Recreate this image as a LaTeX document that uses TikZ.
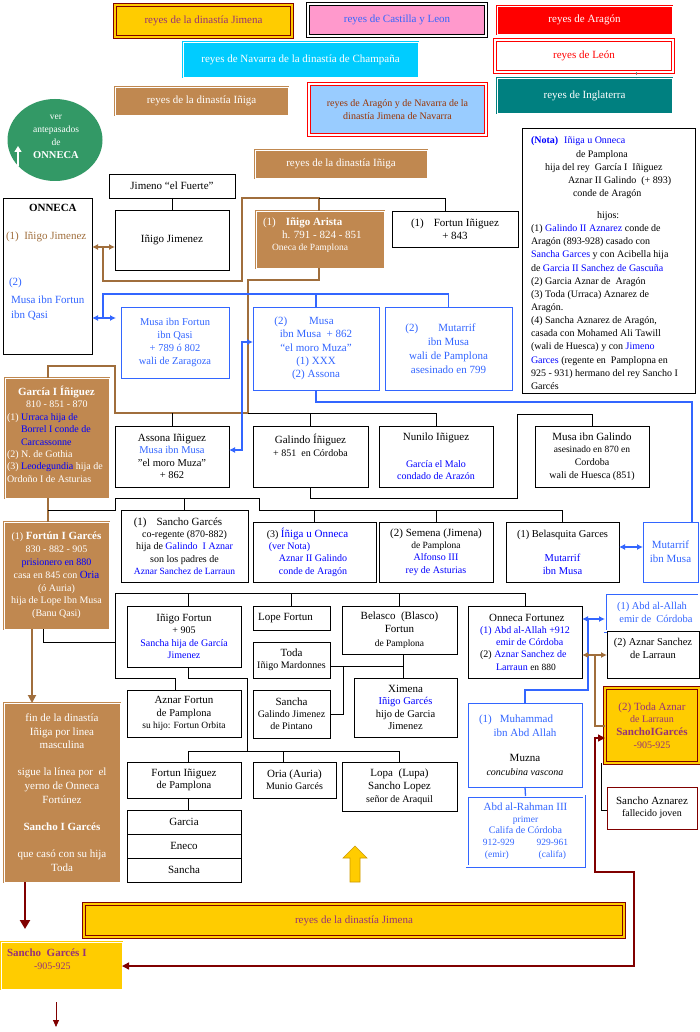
\documentclass[tikz,border=0pt]{standalone}
\usepackage{fontspec}
\setmainfont{Liberation Serif}
\usetikzlibrary{arrows.meta,shapes.geometric}

\definecolor{tblue}{RGB}{0,0,255}
\definecolor{bblue}{RGB}{51,102,255}
\definecolor{brownF}{RGB}{192,136,80}
\definecolor{brownL}{RGB}{160,110,60}
\definecolor{goldC}{RGB}{255,204,0}
\definecolor{goldD}{RGB}{204,153,0}
\definecolor{dred}{RGB}{128,0,0}
\definecolor{purp}{RGB}{150,50,120}
\definecolor{greenC}{RGB}{51,153,102}
\definecolor{tealC}{RGB}{0,128,128}
\definecolor{cyanC}{RGB}{0,204,255}
\definecolor{pinkC}{RGB}{255,153,204}
\definecolor{lblue}{RGB}{153,204,255}
\definecolor{brownT}{RGB}{153,51,0}

\newcommand\myfA{\fontsize{11}{13}\selectfont}
\newcommand\myfB{\fontsize{10}{12.5}\selectfont}
\newcommand\myfC{\fontsize{9.5}{12}\selectfont}

\newcommand\bx[7]{%
  \pgfmathsetmacro\bxcx{(#3+#5)/2}%
  \pgfmathsetmacro\bxcy{(#4+#6)/2}%
  \pgfmathsetmacro\bxw{#5-#3}%
  \pgfmathsetmacro\bxh{#6-#4}%
  \node[#1, minimum width=\bxw pt, minimum height=\bxh pt] (#2) at (\bxcx,\bxcy) {#7};}

\tikzset{
 base/.style={inner sep=0pt, outer sep=0pt, align=center, font=\myfB},
 bx/.style={base, draw=black, line width=0.7pt, fill=white},
 bluebx/.style={base, draw=bblue, line width=1pt, fill=white, text=bblue},
 dblbluebx/.style={base, draw=bblue, line width=0.8pt, double=white, double distance=1.4pt, fill=white, text=bblue},
 brownbx/.style={base, fill=brownF, draw=brownF, line width=0.6pt, double=white, double distance=0.8pt, text=white},
 jimbx/.style={base, fill=goldC, draw=dred, line width=1.2pt, double=goldC, double distance=1.5pt, text=purp, font=\myfA},
 castbx/.style={base, fill=pinkC, draw=black, line width=1pt, double=white, double distance=1.2pt, text=bblue, font=\myfA},
 flatbx/.style={base, fill=#1, draw=#1, line width=0.5pt, double=white, double distance=0.9pt, text=white, font=\myfA},
 leonbx/.style={base, fill=white, draw=red, line width=1.2pt, double=white, double distance=1.4pt, text=red, font=\myfA},
 aranavbx/.style={base, fill=lblue, draw=red, line width=1.1pt, double=white, double distance=1.3pt, text=brownT, font=\myfB},
 redbx/.style={base, draw=dred, line width=0.8pt, fill=white},
 sgbx/.style={base, fill=goldC, draw=goldC, line width=0.6pt, double=white, double distance=0.8pt},
 txt/.style={inner sep=0pt, outer sep=0pt, font=\myfB, align=left},
 conn/.style={draw=black, line width=0.8pt},
 bconn/.style={draw=bblue, line width=1.3pt},
 brconn/.style={draw=brownL, line width=1.7pt},
 barrow/.style={<->, >={Latex[length=6pt,width=6pt]}},
}

\begin{document}
\begin{tikzpicture}[x=1pt,y=-1pt]
\fill[white] (0,0) rectangle (700,1032);
\useasboundingbox (0,0) rectangle (700,1032);

% ---------- legend ----------
\bx{jimbx}{l1}{115}{5}{292}{37}{reyes de la dinastía Jimena}
\bx{castbx}{l2}{308}{4}{486}{36}{reyes de Castilla y Leon}
\bx{flatbx=red}{l3}{497}{6}{672}{34}{reyes de Aragón}
\bx{flatbx=cyanC}{l4}{183}{42}{418}{77}{reyes de Navarra de la dinastía de Champaña}
\bx{leonbx}{l5}{495}{40}{673}{72}{reyes de León}
\bx{flatbx=tealC}{l6}{497}{78}{672}{113}{reyes de Inglaterra}
\bx{brownbx, font=\myfA}{l7}{115}{87}{288}{115}{reyes de la dinastía Iñiga}
\bx{aranavbx}{l8}{309}{84}{486}{135}{reyes de Aragón y de Navarra de la\\dinastía Jimena de Navarra}
\draw[gray, dashed, line width=0.5pt] (l5.south -| 636,0) -- (l6.north -| 636,0);

% ---------- circle ----------
\node[ellipse, fill=greenC, minimum width=95pt, minimum height=82pt, inner sep=0pt] (circ) at (55,140) {};
\node[txt, align=center, text=white, font=\fontsize{9.5}{12.8}\selectfont] (circT) at (56,137) {ver\\antepasados\\de\\{\fontsize{10.5}{12}\selectfont\textbf{ONNECA}}};
\coordinate (cA) at (18,166);
\coordinate (cB) at (18,146);
\draw[white, line width=1.4pt, -{Triangle[length=6pt,width=7pt]}] (cA) -- (cB);

% ---------- row 1-2 ----------
\bx{brownbx, font=\myfA}{iniga2}{255}{150}{427}{178}{reyes de la dinastía Iñiga}
\bx{bx, font=\myfA}{jimeno}{109}{174}{235}{198}{Jimeno “el Fuerte”}
\bx{bx}{onneca}{3}{198}{92}{354}{}
\node[txt, anchor=north west, font=\myfA] (onnecaT) at (6,204) {%
\hspace*{23pt}\textbf{ONNECA}\\[15pt]
\textcolor{brownL}{(1)\ \ Iñigo Jimenez}\\[33pt]
\hspace*{3pt}\textcolor{bblue}{(2)}\\[5pt]
\hspace*{5pt}\textcolor{bblue}{Musa ibn Fortun}\\[2pt]
\hspace*{5pt}\textcolor{bblue}{ibn Qasi}};
\bx{bx, font=\myfA}{iniJim}{115}{210}{229}{270}{Iñigo Jimenez}
\bx{brownbx}{arista}{256}{211}{384}{268}{}
\node[txt, anchor=north west, text=white, font=\fontsize{11}{12.5}\selectfont] (aristaT) at (263,218) {%
(1)\hspace{10pt}\textbf{Iñigo Arista}\\
\hspace*{19pt}h. 791 - 824 - 851\\
\hspace*{9pt}{\myfC Oneca de Pamplona}};
\bx{bx, font=\myfA}{fortunI}{392}{211}{518}{247}{(1)\hspace{10pt}Fortun Iñiguez\\+ 843}

% note
\bx{bx}{note}{522}{128}{695}{393}{}
\node[txt, anchor=north west, font=\fontsize{10}{13.15}\selectfont] (noteT) at (531,137) {%
\textcolor{tblue}{\textbf{(Nota)}\hspace{6pt}Iñiga u Onneca}\\
\hspace*{45pt}de Pamplona\\
\hspace*{14pt}hija del rey\ \ García I\ \ Iñiguez\\
\hspace*{37pt}Aznar II Galindo\ \ (+ 893)\\
\hspace*{42pt}conde de Aragón\\[8.8pt]
\hspace*{66pt}hijos:\\
(1) \textcolor{tblue}{Galindo II Aznarez} conde de\\
Aragón (893-928) casado con\\
\textcolor{tblue}{Sancha Garces} y con Acibella hija\\
de \textcolor{tblue}{Garcia II Sanchez de Gascuña}\\
(2) Garcia Aznar de\ \ Aragón\\
(3) Toda (Urraca) Aznarez de\\
Aragón.\\
(4) Sancha Aznarez de Aragón,\\
casada con Mohamed Ali Tawill\\
(wali de Huesca) y con \textcolor{tblue}{Jimeno}\\
\textcolor{tblue}{Garces} (regente en\ \ Pamplopna en\\
925 - 931) hermano del rey Sancho I\\
Garcés};

% ---------- row 3 ----------
\bx{bluebx, font=\fontsize{10.5}{13}\selectfont}{musaF}{121}{307}{229}{378}{Musa ibn Fortun\\ibn Qasi\\+ 789 ó 802\\wali de Zaragoza}
\bx{bluebx, font=\fontsize{11}{13.2}\selectfont}{musaM}{253}{307}{379}{390}{(2)\hspace{22pt}Musa\hspace*{24pt}\\ibn Musa\ \ + 862\\“el moro Muza”\\(1) XXX\\(2) Assona}
\bx{bluebx, font=\fontsize{11}{14}\selectfont}{mutar}{385}{307}{512}{390}{(2)\hspace{20pt}Mutarrif\hspace*{16pt}\\ibn Musa\\wali de Pamplona\\asesinado en 799}

% ---------- row 4 ----------
\bx{brownbx}{garcia}{5}{378}{109}{498}{}
\node[txt, anchor=north west, text=white, font=\fontsize{10}{12.4}\selectfont] (garciaT) at (7,386) {%
\hspace*{11pt}{\fontsize{11}{12}\selectfont\textbf{García I Íñiguez}}\\
\hspace*{19pt}810 - 851 - 870\\
(1) \textcolor{tblue}{Urraca hija de}\\
\hspace*{14pt}\textcolor{tblue}{Borrel I conde de}\\
\hspace*{14pt}\textcolor{tblue}{Carcassonne}\\
(2) N. de Gothia\\
(3) \textcolor{tblue}{Leodegundia} hija de\\
Ordoño I de Asturias};
\bx{bx, font=\fontsize{10.5}{12.5}\selectfont}{assona}{115}{426}{229}{487}{{\myfA Assona Iñiguez}\\\textcolor{bblue}{Musa ibn Musa}\\”el moro Muza”\\+ 862}
\bx{bx}{galindo}{253}{426}{368}{487}{{\myfA Galindo Íñiguez}\\+ 851\ \ en Córdoba\\[10pt]\mbox{}}
\bx{bx}{nunilo}{379}{426}{493}{487}{{\myfA Nunilo Iñiguez}\\[14pt]\textcolor{tblue}{García el Malo}\\\textcolor{tblue}{condado de Arazón}}
\bx{bx, font=\fontsize{10}{12.6}\selectfont}{musaG}{535}{426}{649}{487}{{\myfA Musa ibn Galindo}\\{\myfC asesinado en 870 en}\\Cordoba\\wali de Huesca (851)}

% ---------- row 5 ----------
\bx{brownbx, font=\fontsize{10}{12.8}\selectfont}{fortun}{4}{522}{109}{629}{(1) {\myfA\textbf{Fortún I Garcés}}\\830 - 882 - 905\\\textcolor{tblue}{prisionero en 880}\\casa en 845 con \textcolor{tblue}{\myfA Oria}\\(ó Auria)\\hija de Lope Ibn Musa\\(Banu Qasi)}
\bx{bx, font=\fontsize{10}{12.3}\selectfont}{sancho}{121}{510}{248}{582}{{\myfA (1)\hspace{10pt}Sancho Garcés}\hspace*{13pt}\\co-regente (870-882)\\hija de \textcolor{tblue}{Galindo\ \ I Aznar}\\son los padres de\\{\myfC\textcolor{tblue}{Aznar Sanchez de Larraun}}}
\bx{bx, align=left, font=\fontsize{10}{12.4}\selectfont}{iniga}{253}{522}{376}{582}{(3) \textcolor{tblue}{\myfA Íñiga u Onneca}\hspace*{14pt}\\\hspace*{2pt}\textcolor{tblue}{(ver Nota)}\\\hspace*{12pt}\textcolor{tblue}{Aznar II Galindo}\\\hspace*{12pt}\textcolor{tblue}{conde de Aragón}}
\bx{bx, font=\fontsize{10}{12.4}\selectfont}{semena}{379}{522}{493}{582}{{\myfA (2) Semena (Jimena)}\\{\myfC de Pamplona}\\\textcolor{tblue}{Alfonso III}\\\textcolor{tblue}{rey de Asturias}}
\bx{bx, font=\fontsize{10.5}{12.5}\selectfont}{belas}{506}{522}{619}{582}{(1) Belasquita Garces\\[12pt]\textcolor{tblue}{Mutarrif}\\\textcolor{tblue}{ibn Musa}}
\bx{bluebx, font=\fontsize{11}{14}\selectfont}{mutB}{643}{522}{698}{582}{Mutarrif\\ibn Musa}

% ---------- row 6 ----------
\bx{bx, font=\fontsize{10}{12.4}\selectfont}{iniF}{127}{606}{241}{667}{{\myfA Iñigo Fortun}\\+ 905\\\textcolor{tblue}{Sancha hija de García}\\\textcolor{tblue}{Jimenez}}
\bx{bx, font=\myfA}{lope}{253}{606}{330}{630}{Lope Fortun\hspace*{12pt}}
\bx{bx, font=\fontsize{10}{12.3}\selectfont}{toda}{253}{642}{330}{678}{{\myfA Toda}\\Iñigo Mardonnes}
\bx{bx, font=\fontsize{10}{12.2}\selectfont}{sancha}{253}{690}{330}{738}{{\myfA Sancha}\\Galindo Jimenez\\de Pintano}
\bx{bx, font=\fontsize{11}{13.5}\selectfont}{belasco}{342}{606}{457}{654}{Belasco\ \ (Blasco)\\Fortun\\{\myfC de Pamplona}}
\bx{bx, font=\fontsize{10.5}{12.4}\selectfont}{ximena}{354}{678}{457}{737}{{\myfA Ximena}\\\textcolor{tblue}{Iñigo Garcés}\\hijo de Garcia\\Jimenez}
\bx{bx, font=\fontsize{10.5}{12.2}\selectfont}{aznarF}{127}{690}{241}{737}{{\myfA Aznar Fortun}\\de Pamplona\\{\myfC su hijo: Fortun Orbita}}
\bx{bx, align=left, font=\fontsize{10}{12.3}\selectfont}{onnecaF}{468}{606}{582}{678}{\hspace*{9pt}{\myfA Onneca Fortunez}\\\textcolor{tblue}{(1) Abd al-Allah +912}\\\hspace*{16pt}\textcolor{tblue}{emir de Córdoba}\\(2) \textcolor{tblue}{Aznar Sanchez de}\\\hspace*{16pt}\textcolor{tblue}{Larraun} {\myfC en 880}}
\bx{dblbluebx, font=\fontsize{10.5}{13}\selectfont}{abd}{605}{593}{699}{631}{(1) Abd al-Allah\\\hspace*{8pt}emir de\ \ Córdoba}
\bx{bx, font=\fontsize{10.5}{13}\selectfont}{aznarS}{607}{631}{699}{678}{(2) Aznar Sanchez\\de Larraun\\\mbox{}}
\bx{jimbx, font=\fontsize{10}{12.6}\selectfont}{toda2}{605}{688}{699}{763}{{\myfA (2) Toda Aznar}\\de Larraun\\{\myfA\textbf{SanchoIGarcés}}\\-905-925}
\bx{bluebx, font=\fontsize{11}{13.5}\selectfont}{muham}{468}{703}{582}{787}{(1)\hspace{8pt}Muhammad\hspace*{18pt}\\ibn Abd Allah\\[12pt]\textcolor{black}{Muzna}\\\textcolor{black}{\myfB\textit{concubina vascona}}}
\bx{dblbluebx, font=\fontsize{10}{11.8}\selectfont}{abdR}{467}{796}{584}{866}{{\myfA Abd al-Rahman III}\\{\myfC primer}\\Califa de Córdoba\\{\myfC 912-929\hspace{22pt}929-961}\\{\myfC (emir)\hspace{30pt}(califa)}}
\bx{redbx, font=\fontsize{10}{12.3}\selectfont}{sanchoA}{607}{787}{697}{829}{{\myfA Sancho Aznarez}\\fallecido joven}

% ---------- row 7 ----------
\bx{bx, font=\fontsize{10.5}{12.3}\selectfont}{fortIn}{127}{762}{241}{798}{{\myfA Fortun Iñiguez}\\de Pamplona}
\bx{bx, font=\myfA}{gar}{127}{810}{241}{834}{Garcia}
\bx{bx, font=\myfA}{eneco}{127}{834}{241}{858}{Eneco}
\bx{bx, font=\myfA}{sancha3}{127}{858}{241}{882}{Sancha}
\bx{bx, font=\fontsize{10}{12.3}\selectfont}{oria}{253}{762}{336}{798}{{\myfA Oria (Auria)}\\Munio Garcés}
\bx{bx, font=\fontsize{11}{13.2}\selectfont}{lopa}{342}{762}{457}{811}{Lopa\ \ (Lupa)\\Sancho Lopez\\{\myfB señor de Araquil}}
\bx{brownbx, font=\fontsize{11}{13.6}\selectfont}{fin}{4}{703}{120}{882}{fin de la dinastía\\Iñiga por linea\\masculina\\[13.6pt]sigue la línea por\ \ el\\yerno de Onneca\\Fortúnez\\[13.6pt]\textbf{Sancho I Garcés}\\[13.6pt]que casó con su hija\\Toda}

% gold up arrow
\filldraw[fill=goldC, draw=goldD, line width=0.6pt] (355,846) -- (367,858) -- (360,858) -- (360,882) -- (350,882) -- (350,858) -- (343,858) -- cycle;

% ---------- bottom ----------
\bx{jimbx}{banner}{84}{904}{624}{937}{reyes de la dinastía Jimena}
\bx{sgbx}{sgI}{1}{942}{122}{989}{}
\node[txt, anchor=north west, text=purp, font=\fontsize{10}{13}\selectfont] (sgT) at (7,949) {%
{\fontsize{11}{13}\selectfont\textbf{Sancho\ \ Garcés I}}\\
\hspace*{27pt}-905-925};

% ---------- connectors ----------
\draw[conn] (jimeno.south) -- (iniJim.north);
\coordinate (mA) at (115,247);
\draw[brconn, barrow] (onneca.east |- mA) -- (mA);
\coordinate (mA2) at (103,247);
\coordinate (jA) at (319,198);
\draw[brconn] (mA2) -- (103,281) -- (242,281) -- (242,198) -- (jA) -- (arista.north -| jA);
\draw[conn] (jA) -- (445,198) -- (fortunI.north -| 445,0);
\draw[brconn] (arista.south -| jA) -- (319,280) -- (248,280) -- (248,413) -- (115,413) -- (115,366) -- (48,366) -- (garcia.north -| 48,0);
\coordinate (bar1) at (248,413);
\draw[conn] (bar1) -| (nunilo.north);
\draw[conn] (galindo.north) -- (galindo.north |- bar1);
\draw[conn] (assona.north) -- (assona.north |- bar1);

\draw[bconn, barrow, shorten >=5pt] (onneca.east |- 0,318) -- (musaF.west |- 0,318);
\coordinate (mB) at (103,318);
\draw[bconn] (mB) -- (103,294) -| (mutar.north);
\draw[bconn] (musaM.north) -- (musaM.north |- 0,294);
\draw[bconn, barrow] (assona.east |- 0,450) -- (242,450) -- (242,342) -- (musaM.west |- 0,342);
\draw[bconn] (musaM.south) -- (musaM.south |- 0,402) -- (692,402) -- (mutB.north -| 692,0);

\draw[conn] (galindo.south) -- (galindo.south |- 0,498) -- (517,498) -- (517,414) -- (musaG.north |- 0,414) -- (musaG.north);

\draw[brconn] (garcia.south -| 48,0) -- (fortun.north -| 48,0);
\coordinate (gB) at (48,510);
\draw[conn] (gB) -- (115,510) -- (115,498) -- (259,498) -- (259,510) -- (belas.north |- 0,510) -- (belas.north);
\draw[conn] (sancho.north) -- (sancho.north |- 0,498);
\draw[conn] (iniga.north) -- (iniga.north |- 0,510);
\draw[conn] (semena.north) -- (semena.north |- 0,510);
\draw[bconn, barrow] ([yshift=5pt]belas.east) -- ([yshift=5pt]mutB.west);

\draw[conn] (fortun.south -| 43,0) -- (43,642) -- (115,642);
\coordinate (fB) at (115,593);
\draw[conn] (fB) -- (115,678) -- (175,678) -- (aznarF.north -| 175,0);
\draw[conn] (fB) -| (onnecaF.north);
\draw[conn] ([xshift=4pt]iniF.north) -- ([xshift=4pt]iniF.north |- fB);
\draw[conn] (lope.north) -- (lope.north |- fB);
\draw[conn] (belasco.north) -- (belasco.north |- fB);

\draw[conn] ([xshift=4pt]iniF.south) -- ([xshift=4pt]iniF.south |- 0,678) -- (247,678) -- (247,751);
\draw[conn] ([xshift=4pt]fortIn.north |- 0,751) -- (lopa.north |- 0,751) -- (lopa.north);
\draw[conn] ([xshift=4pt]fortIn.north) -- ([xshift=4pt]fortIn.north |- 0,751);
\draw[conn] (oria.north -| 283,0) -- (283,751);
\draw[conn] ([xshift=4pt]fortIn.south) -- ([xshift=4pt]gar.north);

\draw[conn] (belasco.south -| 403,0) -- (ximena.north -| 403,0);
\draw[conn] (toda.east |- 0,666) -- (403,666);
\draw[conn] (343,666) -- (343,714) -- (sancha.east);

\draw[bconn, barrow] (onnecaF.east |- 0,619) -- (abd.west |- 0,619);
\draw[bconn] (588,619) -- (588,690) -- (muham.north |- 0,690) -- (muham.north);
\draw[bconn] (muham.south) -- (abdR.north);
\draw[brconn, barrow] (onnecaF.east |- 0,655) -- (aznarS.west |- 0,655);
\draw[brconn] (595,655) -- (595,726) -- (toda2.west |- 0,726);
\draw[conn] (601,763) -- (601,810) -- (sanchoA.west |- 0,810);
\draw[dred, line width=1.4pt, <->, >={Triangle[length=7pt,width=7pt]}] (toda2.west |- 0,738) -- (595,738) -- (595,872) -- (634,872) -- (634,966) -- (sgI.east |- 0,966);

\draw[brownL, line width=1.8pt, -{Triangle[length=8pt,width=8pt]}] (fortun.south -| 32,0) -- (fin.north -| 32,0);
\coordinate (dA) at (25,929);
\draw[dred, line width=2.6pt, -{Triangle[length=9pt,width=10pt]}] (fin.south -| 25,0) -- (dA);
\coordinate (dB) at (56,1002);
\coordinate (dC) at (56,1027);
\draw[dred, line width=0.8pt, -{Triangle[length=7pt,width=6pt]}] (dB) -- (dC);
\end{tikzpicture}
\end{document}
